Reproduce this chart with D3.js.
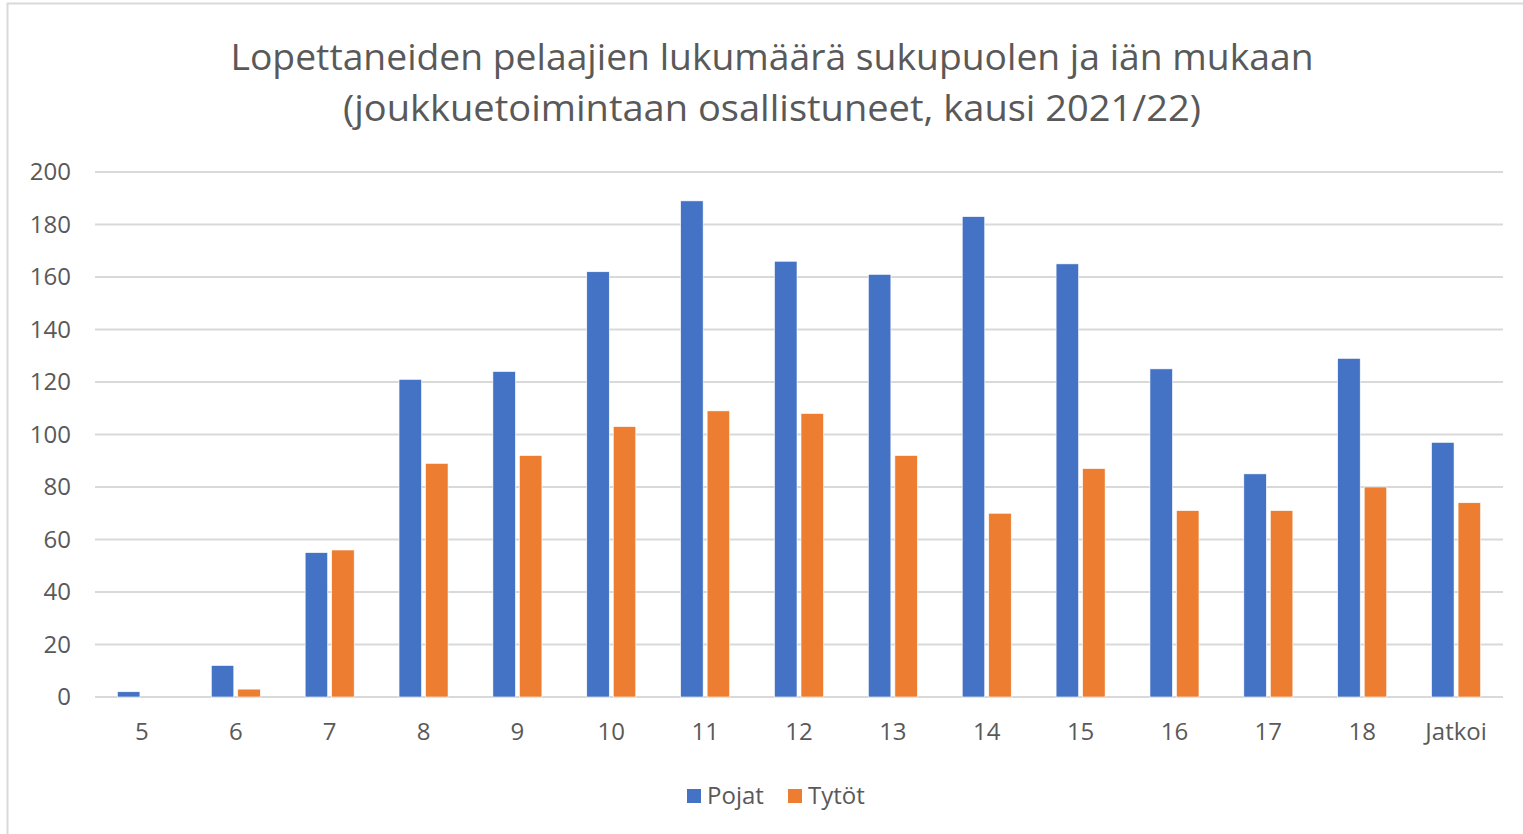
<!DOCTYPE html>
<html><head><meta charset="utf-8">
<script src="https://cdn.jsdelivr.net/npm/d3@7"></script>
<style>html,body{margin:0;padding:0;background:#fff;}svg{display:block;}</style>
</head><body>
<script>
const categories = ["5","6","7","8","9","10","11","12","13","14","15","16","17","18","Jatkoi"];
const pojat = [2,12,55,121,124,162,189,166,161,183,165,125,85,129,97];
const tytot = [0,3,56,89,92,103,109,108,92,70,87,71,71,80,74];
const seriesNames = ["Pojat","Tytöt"];
const yTicks = [0,20,40,60,80,100,120,140,160,180,200];
const titleLines = ["Lopettaneiden pelaajien lukumäärä sukupuolen ja iän mukaan","(joukkuetoimintaan osallistuneet, kausi 2021/22)"];

(function(){
const W=1523,H=834;
const colors=["#4472C4","#ED7D31"];
const font="'Open Sans', 'Liberation Sans', sans-serif";
const textColor="#595959";
const svg=d3.select("body").append("svg").attr("width",W).attr("height",H);
svg.append("rect").attr("x",7.5).attr("y",3.5).attr("width",W+20).attr("height",H+20)
  .attr("fill","#fff").attr("stroke","#d9d9d9").attr("stroke-width",2);

const pLeft=95,pRight=1503,pTop=172,pBottom=697;
const x=d3.scaleBand().domain(categories).range([pLeft,pRight]).paddingInner(0).paddingOuter(0);
const y=d3.scaleLinear().domain([0,200]).range([pBottom,pTop]);
const sub=d3.scaleBand().domain(seriesNames).range([0,x.bandwidth()]).paddingInner(0.151).paddingOuter(0.846);

svg.append("g").selectAll("line").data(yTicks).join("line")
  .attr("x1",pLeft).attr("x2",pRight).attr("y1",d=>y(d)).attr("y2",d=>y(d))
  .attr("stroke","#d9d9d9").attr("stroke-width",2);

const yAxis=d3.axisLeft(y).tickValues(yTicks).tickSize(0).tickPadding(24);
const gy=svg.append("g").attr("transform",`translate(${pLeft},0)`).call(yAxis);
gy.select(".domain").remove();
gy.selectAll("text").attr("font-family",font).attr("font-size",24).attr("fill",textColor);

const xAxis=d3.axisBottom(x).tickSize(0).tickPadding(26);
const gx=svg.append("g").attr("transform",`translate(0,${pBottom})`).call(xAxis);
gx.select(".domain").remove();
gx.selectAll("text").attr("font-family",font).attr("font-size",24).attr("fill",textColor);

const data=categories.map((c,i)=>({c,vals:[pojat[i],tytot[i]]}));
const groups=svg.append("g").selectAll("g").data(data).join("g")
  .attr("transform",d=>`translate(${x(d.c)},0)`);
groups.selectAll("rect").data(d=>d.vals.map((v,j)=>({v,s:seriesNames[j],j})).filter(d=>d.v>0)).join("rect")
  .attr("x",d=>sub(d.s)).attr("width",sub.bandwidth())
  .attr("y",d=>y(d.v)).attr("height",d=>pBottom-y(d.v))
  .attr("fill",d=>colors[d.j]).attr("stroke","#fff").attr("stroke-width",0.6);

svg.append("g").selectAll("text").data(titleLines).join("text")
  .attr("x",772).attr("y",(d,i)=>70+i*51).attr("text-anchor","middle")
  .attr("font-family",font).attr("font-size",37).attr("fill",textColor)
  .attr("textLength",(d,i)=>i===0?1083:858).attr("lengthAdjust","spacingAndGlyphs")
  .text(d=>d);

const legendX=[687,788];
const lg=svg.append("g").selectAll("g").data(seriesNames).join("g")
  .attr("transform",(d,i)=>`translate(${legendX[i]},789)`);
lg.append("rect").attr("width",14).attr("height",14).attr("fill",(d,i)=>colors[i]);
lg.append("text").attr("x",20).attr("y",15).attr("font-family",font).attr("font-size",24)
  .attr("fill",textColor).text(d=>d);
})();
</script>
</body></html>
